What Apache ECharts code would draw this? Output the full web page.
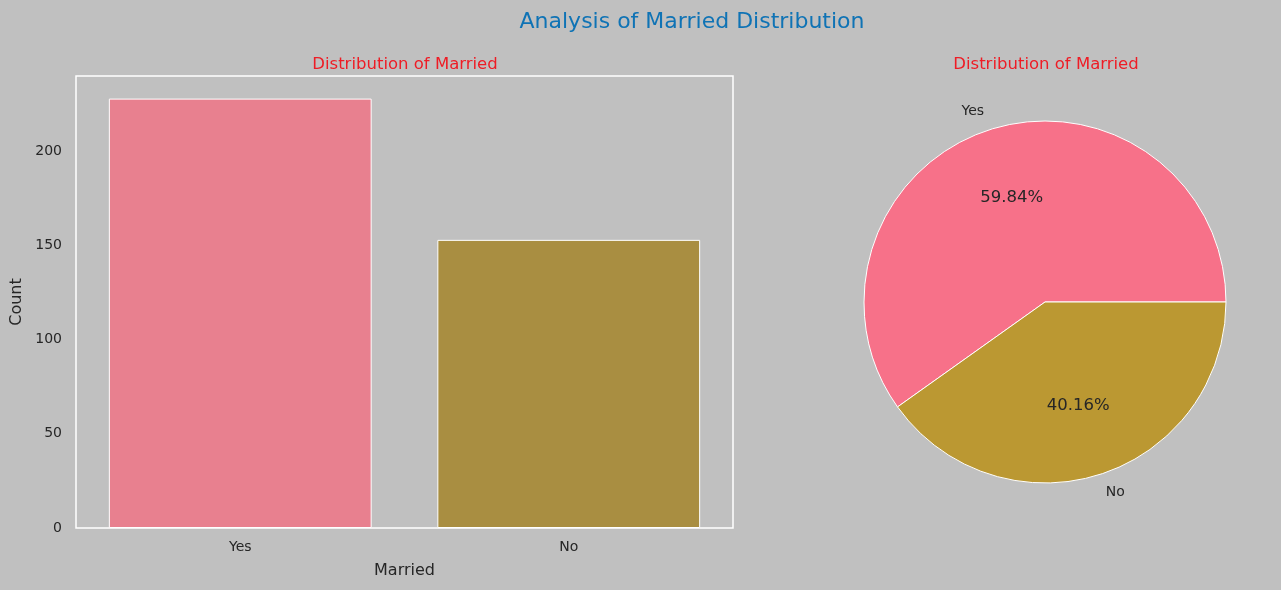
<!DOCTYPE html>
<html>
<head>
<meta charset="utf-8">
<script src="https://cdn.jsdelivr.net/npm/echarts@6/dist/echarts.min.js"></script>
<style>
  html, body { margin: 0; padding: 0; background: #c0c0c0; }
  #main { width: 1281px; height: 590px; }
</style>
</head>
<body>
<div id="main"></div>
<script>
// categories and counts
var categories = ['Yes', 'No'];
var counts = [228, 153];
var barColors = ['#e8808f', '#a98e41'];
var pieColors = ['#f77189', '#bb9832'];
var yTicks = [0, 50, 100, 150, 200];

var textColor = '#262626';
var font = 'DejaVu Sans';

var chart = echarts.init(document.getElementById('main'), null, { renderer: 'canvas' });

var pieData = categories.map(function (c, i) {
  return { name: c, value: counts[i], itemStyle: { color: pieColors[i] } };
});
var total = counts.reduce(function (a, b) { return a + b; }, 0);

var option = {
  backgroundColor: '#c0c0c0',
  animation: false,
  textStyle: { fontFamily: font },
  title: [
    {
      text: 'Analysis of Married Distribution',
      left: 687, top: 6, textAlign: 'center',
      textStyle: { color: '#0f73b5', fontSize: 22, fontWeight: 'normal', fontFamily: font }
    },
    {
      text: 'Distribution of Married',
      left: 400, top: 51, textAlign: 'center',
      textStyle: { color: '#ee1c25', fontSize: 16.5, fontWeight: 'normal', fontFamily: font }
    },
    {
      text: 'Distribution of Married',
      left: 1041, top: 51, textAlign: 'center',
      textStyle: { color: '#ee1c25', fontSize: 16.5, fontWeight: 'normal', fontFamily: font }
    }
  ],
  grid: {
    left: 76, top: 76, width: 657, height: 452,
    outerBoundsMode: 'none',
    containLabel: false,
    show: true, borderColor: '#ffffff', borderWidth: 1.5, backgroundColor: 'transparent'
  },
  xAxis: {
    type: 'category',
    data: categories,
    name: 'Married',
    nameLocation: 'middle',
    nameGap: 35,
    nameTextStyle: { color: textColor, fontSize: 16 },
    axisLine: { show: false },
    axisTick: { show: false },
    axisLabel: { color: textColor, fontSize: 14, margin: 12 },
    splitLine: { show: false }
  },
  yAxis: {
    type: 'value',
    min: 0, max: 240, interval: 50,
    name: 'Count',
    nameLocation: 'middle',
    nameGap: 48,
    nameTextStyle: { color: textColor, fontSize: 16 },
    axisLine: { show: false },
    axisTick: { show: false },
    splitLine: { show: false },
    axisLabel: {
      color: textColor, fontSize: 14, margin: 14,
      showMaxLabel: false,
      formatter: function (v) { return yTicks.indexOf(v) >= 0 ? String(v) : ''; }
    }
  },
  series: [
    {
      type: 'bar',
      data: counts.map(function (v, i) {
        return { value: v, itemStyle: { color: barColors[i] } };
      }),
      barWidth: '80%',
      itemStyle: { borderColor: '#ffffff', borderWidth: 1 }
    },
    {
      // name labels, outside at 1.1 r
      type: 'pie',
      center: [1045, 302],
      radius: 181,
      startAngle: 0,
      clockwise: false,
      data: pieData,
      itemStyle: { borderColor: '#ffffff', borderWidth: 1 },
      label: {
        show: true, position: 'outside', color: textColor, fontSize: 14,
        formatter: '{b}', distanceToLabelLine: 0
      },
      labelLine: { show: false, length: 19, length2: 0 },
      emphasis: { disabled: true }
    },
    {
      // percent labels at 0.6 r (inner label sits at r/2)
      type: 'pie',
      center: [1045, 302],
      radius: 212,
      startAngle: 0,
      clockwise: false,
      silent: true,
      data: pieData.map(function (d) {
        return { name: d.name, value: d.value, itemStyle: { color: 'rgba(0,0,0,0)' } };
      }),
      itemStyle: { borderWidth: 0 },
      label: {
        show: true, position: 'inner', color: textColor, fontSize: 16.5,
        formatter: function (p) { return (p.value / total * 100).toFixed(2) + '%'; }
      },
      labelLine: { show: false },
      emphasis: { disabled: true }
    }
  ]
};

chart.setOption(option);
</script>
</body>
</html>
